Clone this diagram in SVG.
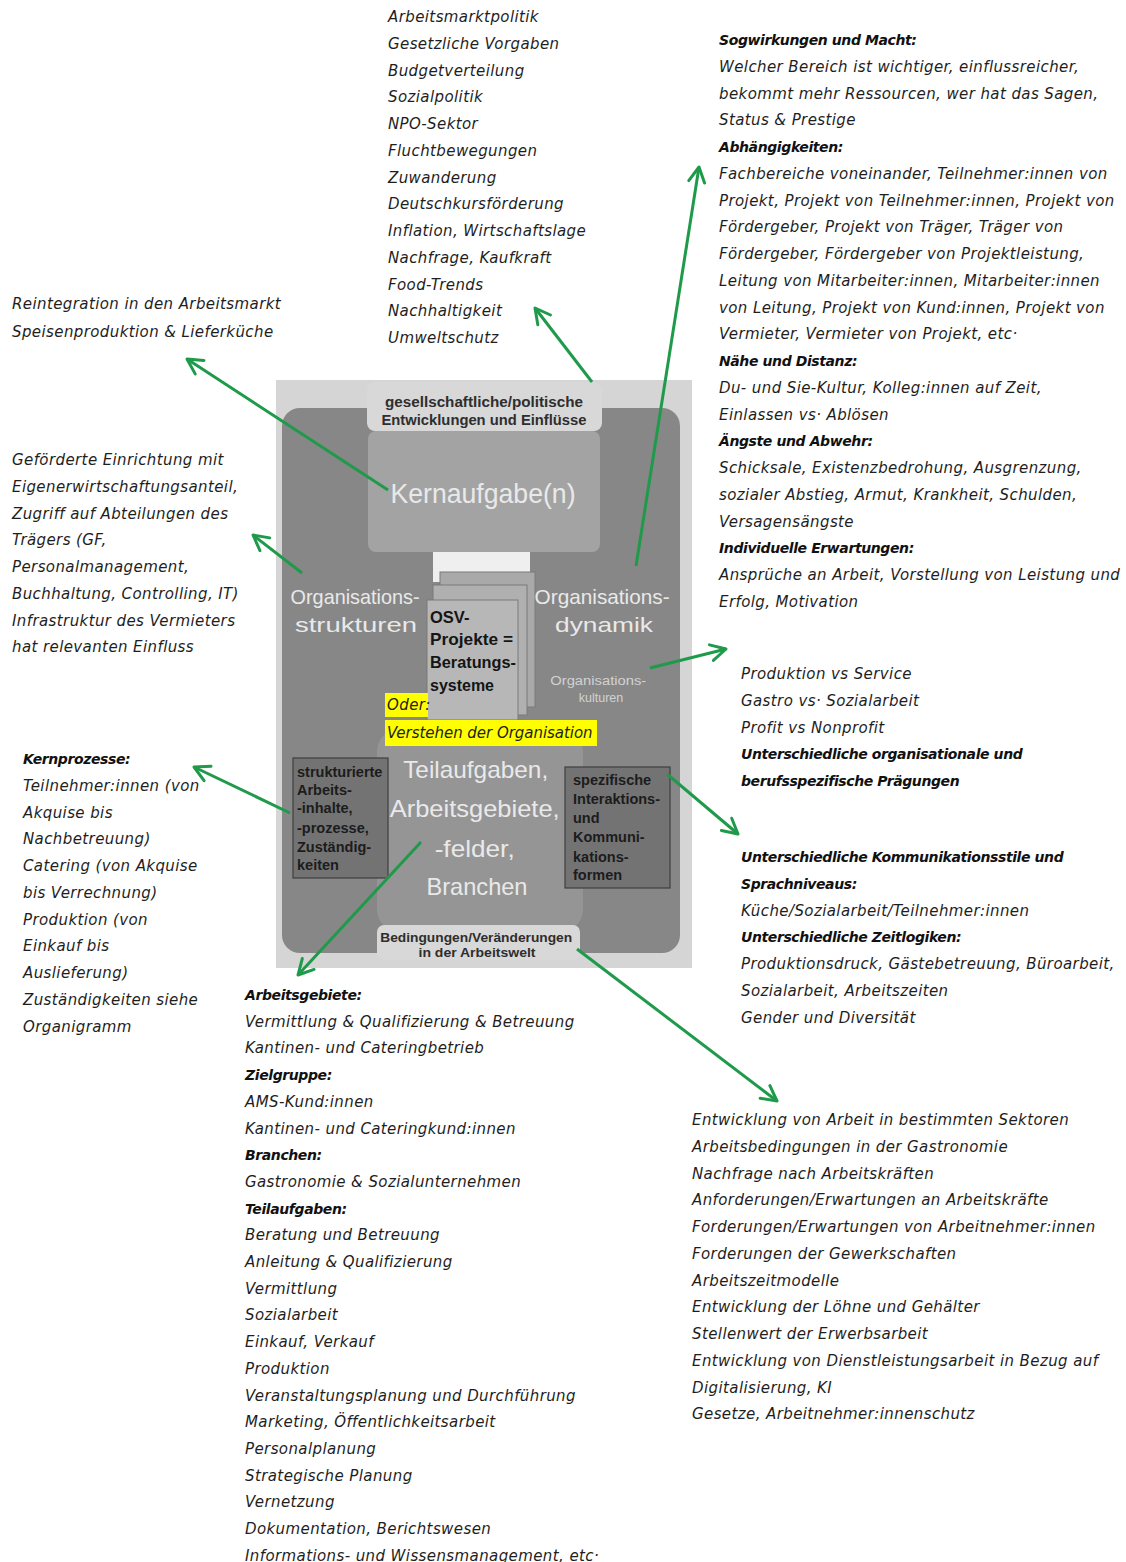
<svg xmlns="http://www.w3.org/2000/svg" width="1126" height="1562" viewBox="0 0 1126 1562">
<style>
.h{font-family:"DejaVu Sans",sans-serif;font-style:italic;font-size:15px;letter-spacing:0.4px;fill:#1e1e1e}
.b{font-family:"DejaVu Sans",sans-serif;font-style:italic;font-weight:bold;font-size:14px;letter-spacing:-0.4px;fill:#111}
.p{font-family:"Liberation Sans",sans-serif}
.lbl{font-family:"Liberation Sans",sans-serif;font-weight:bold;font-size:14.5px;fill:#2e2e2e}
.wt{font-family:"Liberation Sans",sans-serif;fill:#e9e9e9}
.bx{font-family:"Liberation Sans",sans-serif;font-weight:bold;font-size:14.5px;fill:#1c1c1c}
.con line{stroke:#1f9a4a;stroke-width:3;fill:none;marker-end:url(#ah)}
</style>
<defs>
<marker id="ah" viewBox="0 0 20 20" refX="18" refY="10" markerWidth="20" markerHeight="20" markerUnits="userSpaceOnUse" orient="auto">
<path d="M3,2 L18,10 L3,18" fill="none" stroke="#1f9a4a" stroke-width="3" stroke-linecap="round" stroke-linejoin="round"/>
</marker>
</defs>
<rect width="1126" height="1562" fill="#ffffff"/>

<g id="photo">
<rect x="276" y="380" width="416" height="588" fill="#d5d5d5"/>
<rect x="282" y="408" width="398" height="545" rx="18" fill="#878787"/>
<rect x="377" y="728" width="206" height="205" rx="24" fill="#959595"/>
<rect x="433" y="552" width="97" height="30" fill="#efefef"/>
</g>

<g id="top-label">
<rect x="367" y="382" width="235" height="49" rx="8" fill="#d8d8d8"/>
<text class="lbl" x="484" y="407" text-anchor="middle" textLength="198" lengthAdjust="spacingAndGlyphs">gesellschaftliche/politische</text>
<text class="lbl" x="484" y="425" text-anchor="middle" textLength="205" lengthAdjust="spacingAndGlyphs">Entwicklungen und Einflüsse</text>
</g>

<g id="kernaufgabe">
<rect x="368" y="431" width="232" height="121" rx="8" fill="#a3a3a3"/>
<text class="wt" x="483" y="503" font-size="28" text-anchor="middle" textLength="185" lengthAdjust="spacingAndGlyphs">Kernaufgabe(n)</text>
</g>

<g id="osv">
<rect x="440" y="572" width="95" height="135" fill="#a9a9a9" stroke="#7a7a7a" stroke-width="1"/>
<rect x="433" y="585" width="94" height="130" fill="#b0b0b0" stroke="#7a7a7a" stroke-width="1"/>
<rect x="427" y="600" width="91" height="120" fill="#b7b7b7" stroke="#7a7a7a" stroke-width="1"/>
<text class="p" font-weight="bold" font-size="16.5" fill="#151515">
<tspan x="430" y="623">OSV-</tspan>
<tspan x="430" y="645" textLength="83" lengthAdjust="spacingAndGlyphs">Projekte =</tspan>
<tspan x="430" y="668" textLength="86" lengthAdjust="spacingAndGlyphs">Beratungs-</tspan>
<tspan x="430" y="691" textLength="64" lengthAdjust="spacingAndGlyphs">systeme</tspan>
</text>
</g>

<g id="strukturen">
<text class="wt" font-size="21" text-anchor="middle">
<tspan x="358" y="604" textLength="129" lengthAdjust="spacingAndGlyphs">Organisations-</tspan>
<tspan x="356" y="632" textLength="122" lengthAdjust="spacingAndGlyphs">strukturen</tspan>
</text>
</g>

<g id="dynamik">
<text class="wt" font-size="21" text-anchor="middle">
<tspan x="605" y="604" textLength="135" lengthAdjust="spacingAndGlyphs">Organisations-</tspan>
<tspan x="604" y="632" textLength="98" lengthAdjust="spacingAndGlyphs">dynamik</tspan>
</text>
</g>

<g id="kulturen">
<text class="wt" font-size="12.5" text-anchor="middle" style="fill:#d2d2d2">
<tspan x="600" y="685" textLength="96" lengthAdjust="spacingAndGlyphs">Organisations-</tspan>
<tspan x="601" y="702">kulturen</tspan>
</text>
</g>

<g id="oder">
<rect x="385" y="693" width="43" height="24" fill="#ffff00"/>
<text class="h" x="387" y="710" font-size="14">Oder:</text>
<rect x="385" y="720" width="212" height="26" fill="#ffff00"/>
<text class="h" x="387" y="738" font-size="14" textLength="206" lengthAdjust="spacing">Verstehen der Organisation</text>
</g>

<g id="teilaufgaben">
<text class="wt" font-size="24" text-anchor="middle">
<tspan x="479" y="778" textLength="145" lengthAdjust="spacingAndGlyphs">Teilaufgaben,</tspan>
<tspan x="478" y="817" textLength="170" lengthAdjust="spacingAndGlyphs">Arbeitsgebiete,</tspan>
<tspan x="478" y="857" textLength="80" lengthAdjust="spacingAndGlyphs">-felder,</tspan>
<tspan x="477" y="895" textLength="101" lengthAdjust="spacingAndGlyphs">Branchen</tspan>
</text>
</g>

<g id="strukturierte">
<rect x="293" y="758" width="95" height="120" fill="#737373" stroke="#3f3f3f" stroke-width="1.2"/>
<text class="bx">
<tspan x="297" y="777">strukturierte</tspan>
<tspan x="297" y="795">Arbeits-</tspan>
<tspan x="297" y="813">-inhalte,</tspan>
<tspan x="297" y="833">-prozesse,</tspan>
<tspan x="297" y="852">Zuständig-</tspan>
<tspan x="297" y="870">keiten</tspan>
</text>
</g>

<g id="spezifische">
<rect x="565" y="767" width="105" height="121" fill="#737373" stroke="#3f3f3f" stroke-width="1.2"/>
<text class="bx">
<tspan x="573" y="785">spezifische</tspan>
<tspan x="573" y="804">Interaktions-</tspan>
<tspan x="573" y="823">und</tspan>
<tspan x="573" y="842">Kommuni-</tspan>
<tspan x="573" y="862">kations-</tspan>
<tspan x="573" y="880">formen</tspan>
</text>
</g>

<g id="bottom-label">
<rect x="377" y="925" width="203" height="35" rx="7" fill="#d8d8d8"/>
<text class="lbl" text-anchor="middle" style="font-size:13px">
<tspan x="478" y="942" textLength="192" lengthAdjust="spacingAndGlyphs">Bedingungen/Veränderungen</tspan>
<tspan x="477" y="957" textLength="117" lengthAdjust="spacingAndGlyphs">in der Arbeitswelt</tspan>
</text>
</g>

<g id="txt-politik">
<text class="h">
<tspan x="388" y="22">Arbeitsmarktpolitik</tspan>
<tspan x="388" dy="26.75">Gesetzliche Vorgaben</tspan>
<tspan x="388" dy="26.75">Budgetverteilung</tspan>
<tspan x="388" dy="26.75">Sozialpolitik</tspan>
<tspan x="388" dy="26.75">NPO-Sektor</tspan>
<tspan x="388" dy="26.75">Fluchtbewegungen</tspan>
<tspan x="388" dy="26.75">Zuwanderung</tspan>
<tspan x="388" dy="26.75">Deutschkursförderung</tspan>
<tspan x="388" dy="26.75">Inflation, Wirtschaftslage</tspan>
<tspan x="388" dy="26.75">Nachfrage, Kaufkraft</tspan>
<tspan x="388" dy="26.75">Food-Trends</tspan>
<tspan x="388" dy="26.75">Nachhaltigkeit</tspan>
<tspan x="388" dy="26.75">Umweltschutz</tspan>
</text>
</g>

<g id="txt-dynamik">
<text class="h">
<tspan x="719" y="45" class="b">Sogwirkungen und Macht:</tspan>
<tspan x="719" dy="26.75">Welcher Bereich ist wichtiger, einflussreicher,</tspan>
<tspan x="719" dy="26.75">bekommt mehr Ressourcen, wer hat das Sagen,</tspan>
<tspan x="719" dy="26.75">Status &amp; Prestige</tspan>
<tspan x="719" dy="26.75" class="b">Abhängigkeiten:</tspan>
<tspan x="719" dy="26.75">Fachbereiche voneinander, Teilnehmer:innen von</tspan>
<tspan x="719" dy="26.75">Projekt, Projekt von Teilnehmer:innen, Projekt von</tspan>
<tspan x="719" dy="26.75">Fördergeber, Projekt von Träger, Träger von</tspan>
<tspan x="719" dy="26.75">Fördergeber, Fördergeber von Projektleistung,</tspan>
<tspan x="719" dy="26.75">Leitung von Mitarbeiter:innen, Mitarbeiter:innen</tspan>
<tspan x="719" dy="26.75">von Leitung, Projekt von Kund:innen, Projekt von</tspan>
<tspan x="719" dy="26.75">Vermieter, Vermieter von Projekt, etc·</tspan>
<tspan x="719" dy="26.75" class="b">Nähe und Distanz:</tspan>
<tspan x="719" dy="26.75">Du- und Sie-Kultur, Kolleg:innen auf Zeit,</tspan>
<tspan x="719" dy="26.75">Einlassen vs· Ablösen</tspan>
<tspan x="719" dy="26.75" class="b">Ängste und Abwehr:</tspan>
<tspan x="719" dy="26.75">Schicksale, Existenzbedrohung, Ausgrenzung,</tspan>
<tspan x="719" dy="26.75">sozialer Abstieg, Armut, Krankheit, Schulden,</tspan>
<tspan x="719" dy="26.75">Versagensängste</tspan>
<tspan x="719" dy="26.75" class="b">Individuelle Erwartungen:</tspan>
<tspan x="719" dy="26.75">Ansprüche an Arbeit, Vorstellung von Leistung und</tspan>
<tspan x="719" dy="26.75">Erfolg, Motivation</tspan>
</text>
</g>

<g id="txt-kern">
<text class="h">
<tspan x="12" y="309">Reintegration in den Arbeitsmarkt</tspan>
<tspan x="12" dy="28">Speisenproduktion &amp; Lieferküche</tspan>
</text>
</g>

<g id="txt-strukturen">
<text class="h">
<tspan x="12" y="465">Geförderte Einrichtung mit</tspan>
<tspan x="12" dy="26.75">Eigenerwirtschaftungsanteil,</tspan>
<tspan x="12" dy="26.75">Zugriff auf Abteilungen des</tspan>
<tspan x="12" dy="26.75">Trägers (GF,</tspan>
<tspan x="12" dy="26.75">Personalmanagement,</tspan>
<tspan x="12" dy="26.75">Buchhaltung, Controlling, IT)</tspan>
<tspan x="12" dy="26.75">Infrastruktur des Vermieters</tspan>
<tspan x="12" dy="26.75">hat relevanten Einfluss</tspan>
</text>
</g>

<g id="txt-prozesse">
<text class="h">
<tspan x="23" y="764" class="b">Kernprozesse:</tspan>
<tspan x="23" dy="26.75">Teilnehmer:innen (von</tspan>
<tspan x="23" dy="26.75">Akquise bis</tspan>
<tspan x="23" dy="26.75">Nachbetreuung)</tspan>
<tspan x="23" dy="26.75">Catering (von Akquise</tspan>
<tspan x="23" dy="26.75">bis Verrechnung)</tspan>
<tspan x="23" dy="26.75">Produktion (von</tspan>
<tspan x="23" dy="26.75">Einkauf bis</tspan>
<tspan x="23" dy="26.75">Auslieferung)</tspan>
<tspan x="23" dy="26.75">Zuständigkeiten siehe</tspan>
<tspan x="23" dy="26.75">Organigramm</tspan>
</text>
</g>

<g id="txt-kulturen">
<text class="h">
<tspan x="741" y="679">Produktion vs Service</tspan>
<tspan x="741" dy="26.75">Gastro vs· Sozialarbeit</tspan>
<tspan x="741" dy="26.75">Profit vs Nonprofit</tspan>
<tspan x="741" dy="26.75" class="b">Unterschiedliche organisationale und</tspan>
<tspan x="741" dy="26.75" class="b">berufsspezifische Prägungen</tspan>
</text>
</g>

<g id="txt-kommunikation">
<text class="h">
<tspan x="741" y="862" class="b">Unterschiedliche Kommunikationsstile und</tspan>
<tspan x="741" dy="26.75" class="b">Sprachniveaus:</tspan>
<tspan x="741" dy="26.75">Küche/Sozialarbeit/Teilnehmer:innen</tspan>
<tspan x="741" dy="26.75" class="b">Unterschiedliche Zeitlogiken:</tspan>
<tspan x="741" dy="26.75">Produktionsdruck, Gästebetreuung, Büroarbeit,</tspan>
<tspan x="741" dy="26.75">Sozialarbeit, Arbeitszeiten</tspan>
<tspan x="741" dy="26.75">Gender und Diversität</tspan>
</text>
</g>

<g id="txt-arbeitswelt">
<text class="h">
<tspan x="692" y="1125">Entwicklung von Arbeit in bestimmten Sektoren</tspan>
<tspan x="692" dy="26.75">Arbeitsbedingungen in der Gastronomie</tspan>
<tspan x="692" dy="26.75">Nachfrage nach Arbeitskräften</tspan>
<tspan x="692" dy="26.75">Anforderungen/Erwartungen an Arbeitskräfte</tspan>
<tspan x="692" dy="26.75">Forderungen/Erwartungen von Arbeitnehmer:innen</tspan>
<tspan x="692" dy="26.75">Forderungen der Gewerkschaften</tspan>
<tspan x="692" dy="26.75">Arbeitszeitmodelle</tspan>
<tspan x="692" dy="26.75">Entwicklung der Löhne und Gehälter</tspan>
<tspan x="692" dy="26.75">Stellenwert der Erwerbsarbeit</tspan>
<tspan x="692" dy="26.75">Entwicklung von Dienstleistungsarbeit in Bezug auf</tspan>
<tspan x="692" dy="26.75">Digitalisierung, KI</tspan>
<tspan x="692" dy="26.75">Gesetze, Arbeitnehmer:innenschutz</tspan>
</text>
</g>

<g id="txt-arbeitsgebiete">
<text class="h">
<tspan x="245" y="1000" class="b">Arbeitsgebiete:</tspan>
<tspan x="245" dy="26.7">Vermittlung &amp; Qualifizierung &amp; Betreuung</tspan>
<tspan x="245" dy="26.7">Kantinen- und Cateringbetrieb</tspan>
<tspan x="245" dy="26.7" class="b">Zielgruppe:</tspan>
<tspan x="245" dy="26.7">AMS-Kund:innen</tspan>
<tspan x="245" dy="26.7">Kantinen- und Cateringkund:innen</tspan>
<tspan x="245" dy="26.7" class="b">Branchen:</tspan>
<tspan x="245" dy="26.7">Gastronomie &amp; Sozialunternehmen</tspan>
<tspan x="245" dy="26.7" class="b">Teilaufgaben:</tspan>
<tspan x="245" dy="26.7">Beratung und Betreuung</tspan>
<tspan x="245" dy="26.7">Anleitung &amp; Qualifizierung</tspan>
<tspan x="245" dy="26.7">Vermittlung</tspan>
<tspan x="245" dy="26.7">Sozialarbeit</tspan>
<tspan x="245" dy="26.7">Einkauf, Verkauf</tspan>
<tspan x="245" dy="26.7">Produktion</tspan>
<tspan x="245" dy="26.7">Veranstaltungsplanung und Durchführung</tspan>
<tspan x="245" dy="26.7">Marketing, Öffentlichkeitsarbeit</tspan>
<tspan x="245" dy="26.7">Personalplanung</tspan>
<tspan x="245" dy="26.7">Strategische Planung</tspan>
<tspan x="245" dy="26.7">Vernetzung</tspan>
<tspan x="245" dy="26.7">Dokumentation, Berichtswesen</tspan>
<tspan x="245" dy="26.7">Informations- und Wissensmanagement, etc·</tspan>
</text>
</g>

<g id="connectors" class="con">
<line x1="388" y1="490" x2="187" y2="359"/>
<line x1="592" y1="382" x2="535" y2="308"/>
<line x1="636" y1="566" x2="699" y2="167"/>
<line x1="302" y1="573" x2="253" y2="535"/>
<line x1="650" y1="668" x2="726" y2="649"/>
<line x1="290" y1="813" x2="194" y2="767"/>
<line x1="667" y1="774" x2="738" y2="834"/>
<line x1="421" y1="842" x2="298" y2="975"/>
<line x1="577" y1="949" x2="777" y2="1101"/>
</g>
</svg>
